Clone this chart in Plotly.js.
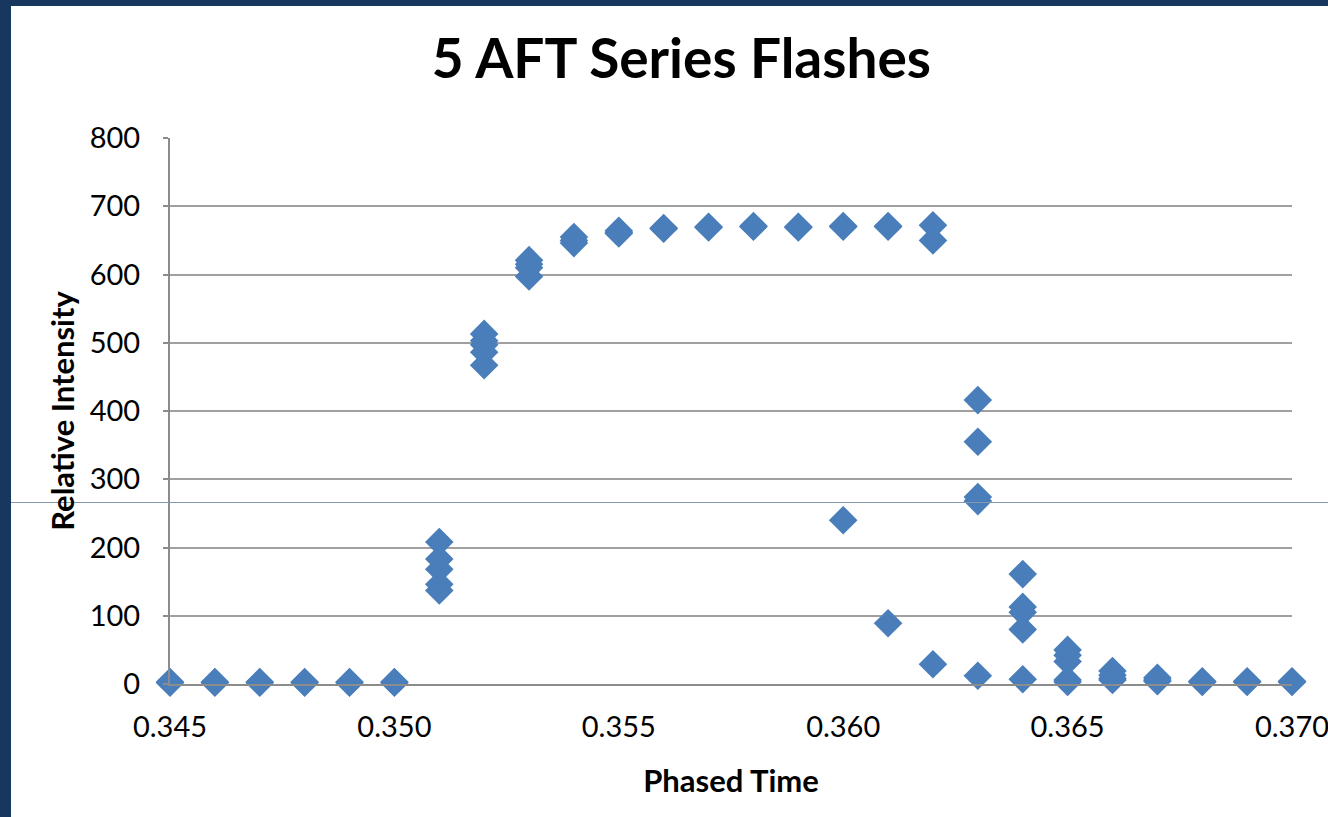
<!DOCTYPE html>
<html>
<head>
<meta charset="utf-8">
<script src="https://cdn.plot.ly/plotly-3.0.1.min.js"></script>
<style>
  html, body { margin: 0; padding: 0; background: #17375e; width: 1328px; height: 817px; overflow: hidden; }
  #chart { position: absolute; left: 11px; top: 6px; width: 1317px; height: 811px; background: #ffffff; }
</style>
</head>
<body>
<div id="chart"></div>
<script>
// Phased time (x) and relative intensity (y) for the 5 AFT series flashes
const phasedTime = [
  0.345, 0.345, 0.346, 0.346, 0.347, 0.347, 0.348, 0.348, 0.349, 0.349, 0.350, 0.350,
  0.351, 0.351, 0.351, 0.351, 0.351,
  0.352, 0.352, 0.352, 0.352, 0.352,
  0.353, 0.353, 0.353, 0.353,
  0.354, 0.354, 0.354,
  0.355, 0.355, 0.355,
  0.356, 0.356,
  0.357, 0.357,
  0.358, 0.358,
  0.359, 0.359,
  0.360, 0.360, 0.360,
  0.361, 0.361, 0.361,
  0.362, 0.362, 0.362,
  0.363, 0.363, 0.363, 0.363, 0.363,
  0.364, 0.364, 0.364, 0.364, 0.364,
  0.365, 0.365, 0.365, 0.365, 0.365,
  0.366, 0.366, 0.366, 0.366,
  0.367, 0.367, 0.367,
  0.368, 0.368,
  0.369, 0.369,
  0.370, 0.370
];
const relativeIntensity = [
  3, 2, 3, 2, 3, 2, 3, 2, 3, 2, 3, 2,
  208, 183, 168, 146, 137,
  513, 503, 497, 486, 467,
  621, 615, 610, 597,
  655, 650, 646,
  664, 662, 660,
  668, 667,
  670, 669,
  671, 670,
  670, 669,
  671, 670, 240,
  671, 670, 89,
  672, 650, 29,
  416, 355, 274, 268, 12,
  161, 113, 105, 80, 7,
  50, 42, 33, 6, 3,
  19, 13, 8, 6,
  9, 6, 4,
  4, 3,
  4, 3,
  4, 3
];
const chartTitle = "5 AFT Series Flashes";
const xTitle = "Phased Time";
const yTitle = "Relative Intensity";

const fontFam = "Lato, 'Open Sans', 'DejaVu Sans', sans-serif";

const trace = {
  x: phasedTime,
  y: relativeIntensity,
  type: "scatter",
  mode: "markers",
  cliponaxis: false,
  marker: { symbol: "diamond", size: 22, color: "#4a7ebb", line: { width: 0 } },
  hoverinfo: "x+y"
};

const layout = {
  width: 1317,
  height: 811,
  paper_bgcolor: "#ffffff",
  plot_bgcolor: "#ffffff",
  margin: { l: 159, r: 36, t: 132, b: 133, pad: 0 },
  showlegend: false,
  title: {
    text: "<b>" + chartTitle + "</b>",
    font: { family: fontFam, size: 55, color: "#000000" },
    xref: "container", x: 0.509, xanchor: "center",
    yref: "container", y: 0.935, yanchor: "middle"
  },
  xaxis: {
    range: [0.345, 0.370],
    tick0: 0.345, dtick: 0.005,
    tickformat: ".3f",
    showgrid: false,
    zeroline: false,
    showline: true, linecolor: "#8c8c8c", linewidth: 2,
    ticks: "",
    ticklabelstandoff: 16,
    ticklabeloverflow: "allow",
    tickfont: { family: fontFam, size: 29, color: "#000000" },
    automargin: false,
    title: { text: "<b>" + xTitle + "</b>", font: { family: fontFam, size: 31, color: "#000000" }, standoff: 29 }
  },
  yaxis: {
    range: [0, 800],
    tick0: 0, dtick: 100,
    showgrid: true, gridcolor: "#a0a0a0", gridwidth: 2,
    zeroline: false,
    showline: true, linecolor: "#8c8c8c", linewidth: 2,
    ticks: "outside", ticklen: 5, tickcolor: "#8c8c8c", tickwidth: 2,
    ticklabelstandoff: 17,
    ticklabeloverflow: "allow",
    tickfont: { family: fontFam, size: 29, color: "#000000" },
    automargin: false,
    title: { text: "<b>" + yTitle + "</b>", font: { family: fontFam, size: 31, color: "#000000" }, standoff: 6 }
  },
  shapes: [
    { type: "line", xref: "paper", yref: "paper", x0: -0.1417, x1: 1.032, y0: 0.3324, y1: 0.3324,
      line: { color: "#8497b0", width: 1 }, layer: "above" }
  ]
};

Plotly.newPlot("chart", [trace], layout, { displayModeBar: false, staticPlot: true });
</script>
</body>
</html>
